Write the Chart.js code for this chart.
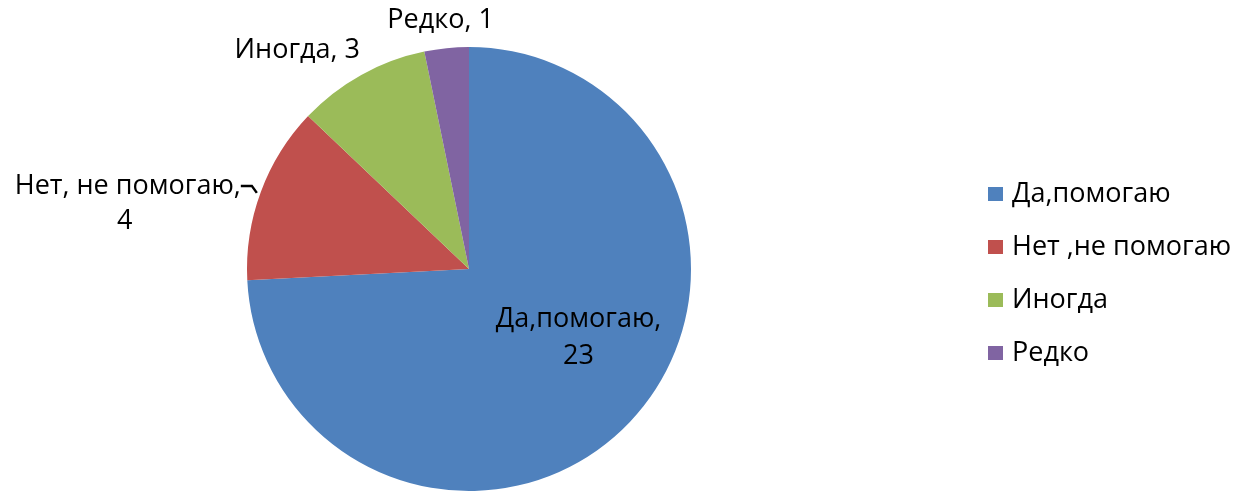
<!DOCTYPE html>
<html>
<head>
<meta charset="utf-8">
<script src="https://cdn.jsdelivr.net/npm/chart.js@4/dist/chart.umd.min.js"></script>
<style>
  html, body { margin: 0; padding: 0; background: #ffffff; }
  #wrap { width: 1235px; height: 500px; position: relative; }
</style>
</head>
<body>
<div id="wrap"><canvas id="c" width="1235" height="500"></canvas></div>
<script>
// Survey answers and counts
const categories = ['Да,помогаю', 'Нет ,не помогаю', 'Иногда', 'Редко'];
const counts = [23, 4, 3, 1];
// Text shown beside each slice (name part, then value)
const sliceNames = ['Да,помогаю,', 'Нет, не помогаю,', 'Иногда,', 'Редко,'];
const colors = ['#4F81BD', '#C0504D', '#9BBB59', '#8064A2'];

const FONT = '"Open Sans", "Noto Sans", sans-serif';
const FONT_SIZE = 27;

// Placement of each slice label relative to the slice's outer edge at its mid angle
const labelPlacement = [
  { inside: true },
  { lines: 2, dx: -120, dy: -6, leader: true },
  { lines: 1, dx: -64, dy: -25 },
  { lines: 1, dx: -6, dy: -28 }
];

const sliceLabels = {
  id: 'sliceLabels',
  afterDraw(chart) {
    const ctx = chart.ctx;
    const meta = chart.getDatasetMeta(0);
    ctx.save();
    ctx.fillStyle = '#000000';
    ctx.font = FONT_SIZE + 'px ' + FONT;
    ctx.textAlign = 'center';
    ctx.textBaseline = 'middle';
    meta.data.forEach((arc, i) => {
      const p = arc.getProps(['x', 'y', 'startAngle', 'endAngle', 'outerRadius'], true);
      const mid = (p.startAngle + p.endAngle) / 2;
      const val = chart.data.datasets[0].data[i];
      const pl = labelPlacement[i];
      if (pl.inside) {
        const r = p.outerRadius * 0.6;
        const cx = p.x + Math.cos(mid) * r;
        const cy = p.y + Math.sin(mid) * r;
        ctx.fillText(sliceNames[i], cx + 13, cy - 41);
        ctx.fillText(String(val), cx + 13, cy - 4);
        return;
      }
      const ex = p.x + Math.cos(mid) * p.outerRadius;
      const ey = p.y + Math.sin(mid) * p.outerRadius;
      const lx = ex + pl.dx;
      const ly = ey + pl.dy;
      if (pl.lines === 2) {
        ctx.textAlign = 'right';
        ctx.fillText(sliceNames[i], ex - 20, ey - 6);
        ctx.textAlign = 'center';
        ctx.fillText(String(val), lx - 16, ey + 29);
        if (pl.leader) {
          ctx.strokeStyle = '#000000';
          ctx.lineWidth = 2.5;
          ctx.beginPath();
          ctx.moveTo(ex - 20, ey - 6);
          ctx.lineTo(ex - 9, ey - 6);
          ctx.lineTo(ex - 4, ey + 1);
          ctx.stroke();
        }
      } else {
        ctx.fillText(sliceNames[i] + ' ' + val, lx, ly);
      }
    });
    ctx.restore();
  }
};

const sideLegend = {
  id: 'sideLegend',
  afterDraw(chart) {
    const ctx = chart.ctx;
    ctx.save();
    ctx.font = FONT_SIZE + 'px ' + FONT;
    ctx.textAlign = 'left';
    ctx.textBaseline = 'middle';
    const x0 = 988, y0 = 194, step = 53;
    chart.data.labels.forEach((lab, i) => {
      const y = y0 + i * step;
      ctx.fillStyle = colors[i];
      ctx.fillRect(x0, y - 7, 15, 14);
      ctx.fillStyle = '#000000';
      ctx.fillText(lab, x0 + 24, y);
    });
    ctx.restore();
  }
};

new Chart(document.getElementById('c'), {
  type: 'pie',
  data: {
    labels: categories,
    datasets: [{
      data: counts,
      backgroundColor: colors,
      borderWidth: 0
    }]
  },
  options: {
    responsive: false,
    animation: false,
    layout: { padding: { left: 247, right: 544, top: 47, bottom: 9 } },
    plugins: {
      legend: { display: false },
      tooltip: { enabled: false }
    }
  },
  plugins: [sliceLabels, sideLegend]
});
</script>
</body>
</html>
